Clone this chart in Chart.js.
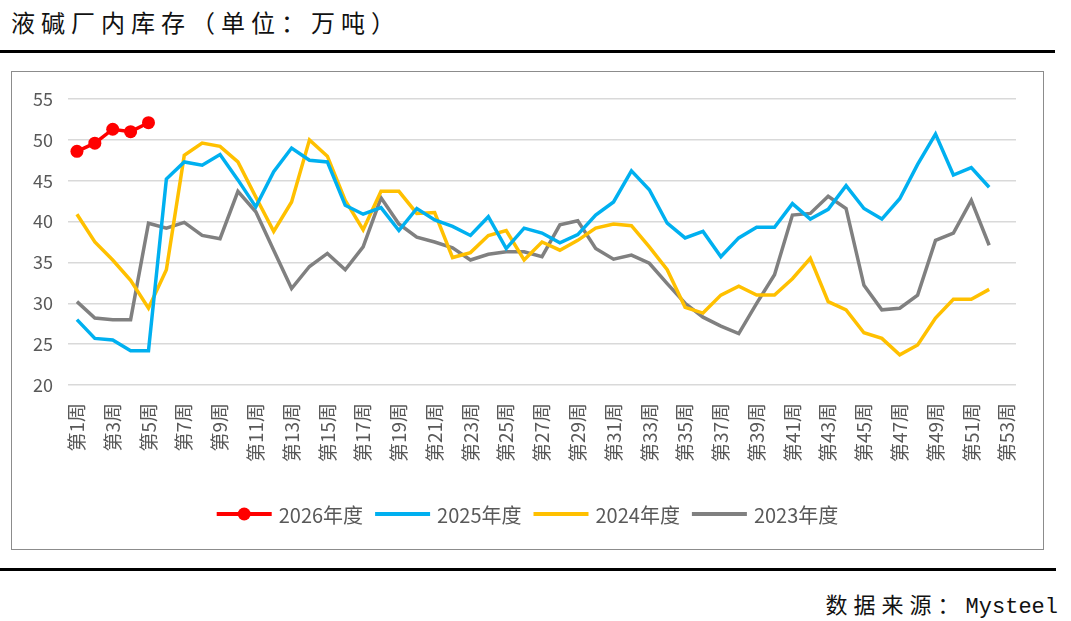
<!DOCTYPE html>
<html>
<head>
<meta charset="utf-8">
<script src="https://cdn.jsdelivr.net/npm/chart.js@4.4.1/dist/chart.umd.min.js"></script>
<style>
  html, body { margin: 0; padding: 0; background: #fff; }
  body { width: 1071px; height: 621px; position: relative; overflow: hidden; font-family: "Noto Sans CJK SC", sans-serif; }
  #title { position: absolute; left: 11px; top: 4px; font-size: 24px; letter-spacing: 6px; color: #111; line-height: 36px; }
  .rule { position: absolute; left: 0; height: 3px; background: #000; }
  #box { position: absolute; left: 11px; top: 71px; width: 1033px; height: 479px; border: 1.5px solid #8c8c8c; box-sizing: border-box; }
  #wrap { position: absolute; left: 12px; top: 72px; width: 1031px; height: 477px; }
  #source { position: absolute; right: 13px; top: 586px; font-size: 22px; color: #111; line-height: 34px; }
  #source .cn { letter-spacing: 6px; }
  #source .en { font-family: "Liberation Mono", monospace; }
</style>
</head>
<body>
<div id="title">液碱厂内库存（单位：万吨）</div>
<div class="rule" style="top:50px;width:1055px"></div>
<div id="box"></div>
<div id="wrap"><canvas id="inv"></canvas></div>
<div class="rule" style="top:568px;width:1056px"></div>
<div id="source"><span class="cn">数据来源：</span><span class="en">Mysteel</span></div>
<script>
// 周次
const weeks = Array.from({ length: 53 }, (_, i) => '第' + (i + 1) + '周');

// 各年度厂内库存（万吨）
const inv2026 = [48.6, 49.6, 51.3, 51.0, 52.1];
const inv2025 = [28.0, 25.7, 25.5, 24.2, 24.2, 45.2, 47.3, 46.9, 48.2, 45.1,
                 41.8, 46.1, 49.0, 47.5, 47.3, 42.0, 40.9, 41.7, 38.9, 41.6,
                 40.2, 39.4, 38.3, 40.6, 36.7, 39.2, 38.6, 37.4, 38.4, 40.8,
                 42.4, 46.2, 43.9, 39.8, 38.0, 38.8, 35.7, 38.0, 39.3, 39.3,
                 42.2, 40.3, 41.5, 44.4, 41.6, 40.3, 42.8, 47.0, 50.7, 45.7,
                 46.6, 44.2];
const inv2024 = [40.9, 37.5, 35.3, 32.8, 29.4, 34.1, 48.1, 49.6, 49.2, 47.3,
                 43.0, 38.8, 42.4, 50.0, 48.0, 42.6, 39.0, 43.7, 43.7, 41.0,
                 41.1, 35.6, 36.2, 38.3, 38.9, 35.3, 37.5, 36.5, 37.7, 39.2,
                 39.7, 39.5, 36.9, 34.1, 29.5, 28.8, 31.0, 32.1, 31.0, 31.0,
                 33.0, 35.5, 30.2, 29.2, 26.4, 25.7, 23.7, 24.9, 28.2, 30.5,
                 30.5, 31.7];
const inv2023 = [30.2, 28.2, 28.0, 28.0, 39.8, 39.2, 39.9, 38.3, 37.9, 43.7,
                 41.2, 36.5, 31.8, 34.5, 36.1, 34.1, 36.9, 42.9, 39.7, 38.1,
                 37.5, 36.8, 35.3, 36.0, 36.3, 36.3, 35.7, 39.6, 40.1, 36.7,
                 35.4, 35.9, 34.9, 32.4, 30.0, 28.3, 27.2, 26.3, 30.0, 33.5,
                 40.8, 41.0, 43.1, 41.6, 32.2, 29.2, 29.4, 31.0, 37.7, 38.6,
                 42.6, 37.1];

const seriesNames = ['2026年度', '2025年度', '2024年度', '2023年度'];
const yTicks = [20, 25, 30, 35, 40, 45, 50, 55];

const textColor = '#595959';
const cjkFont = '"Noto Sans CJK SC", sans-serif';

// 图例：线段 + 文字，红色系列带圆点
const bottomLegend = {
    id: 'bottomLegend',
    afterDraw(chart) {
        const ctx = chart.ctx;
        const y = 442;
        const lineLen = 55, gap = 7, itemGap = 12;
        ctx.save();
        ctx.font = '20px ' + cjkFont;
        const items = chart.data.datasets.map(ds => ({ ds, w: lineLen + gap + ctx.measureText(ds.label).width }));
        const total = items.reduce((s, it) => s + it.w, 0) + itemGap * (items.length - 1);
        let x = (chart.width - total) / 2;
        items.forEach(({ ds, w }) => {
            ctx.strokeStyle = ds.borderColor;
            ctx.lineWidth = 4;
            ctx.lineCap = 'butt';
            ctx.beginPath();
            ctx.moveTo(x, y);
            ctx.lineTo(x + lineLen, y);
            ctx.stroke();
            if (ds.pointRadius > 0) {
                ctx.fillStyle = ds.borderColor;
                ctx.beginPath();
                ctx.arc(x + lineLen / 2, y, 6.5, 0, Math.PI * 2);
                ctx.fill();
            }
            ctx.fillStyle = textColor;
            ctx.textBaseline = 'middle';
            ctx.textAlign = 'left';
            ctx.fillText(ds.label, x + lineLen + gap, y + 1);
            x += w + itemGap;
        });
        ctx.restore();
    }
};

const line = (label, data, color, marker) => ({
    label,
    data,
    borderColor: color,
    backgroundColor: color,
    borderWidth: 3.5,
    tension: 0,
    pointRadius: marker ? 6.5 : 0,
    pointHoverRadius: marker ? 6.5 : 0,
    pointBorderWidth: 0,
    fill: false
});

new Chart(document.getElementById('inv'), {
    type: 'line',
    data: {
        labels: weeks,
        datasets: [
            line(seriesNames[0], inv2026, '#ff0000', true),
            line(seriesNames[1], inv2025, '#00b0f0', false),
            line(seriesNames[2], inv2024, '#ffc000', false),
            line(seriesNames[3], inv2023, '#808080', false)
        ]
    },
    options: {
        responsive: true,
        maintainAspectRatio: false,
        animation: false,
        layout: { padding: { left: 0, top: 27, right: 27, bottom: 0 } },
        plugins: {
            legend: { display: false },
            tooltip: { enabled: false }
        },
        scales: {
            x: {
                offset: true,
                grid: { display: false },
                border: { display: false },
                ticks: {
                    autoSkip: false,
                    minRotation: 90,
                    maxRotation: 90,
                    padding: 10,
                    color: textColor,
                    font: { family: cjkFont, size: 19 },
                    callback: (v, i) => (i % 2 === 0 ? weeks[i] : '')
                },
                afterFit: s => { s.height = 164; }
            },
            y: {
                min: yTicks[0],
                max: yTicks[yTicks.length - 1],
                grid: { color: '#d9d9d9', lineWidth: 1.5, drawTicks: false },
                border: { display: false },
                ticks: {
                    stepSize: 5,
                    padding: 15,
                    color: textColor,
                    font: { family: cjkFont, size: 18 }
                },
                afterFit: s => { s.width = 56; }
            }
        }
    },
    plugins: [bottomLegend]
});
</script>
</body>
</html>
